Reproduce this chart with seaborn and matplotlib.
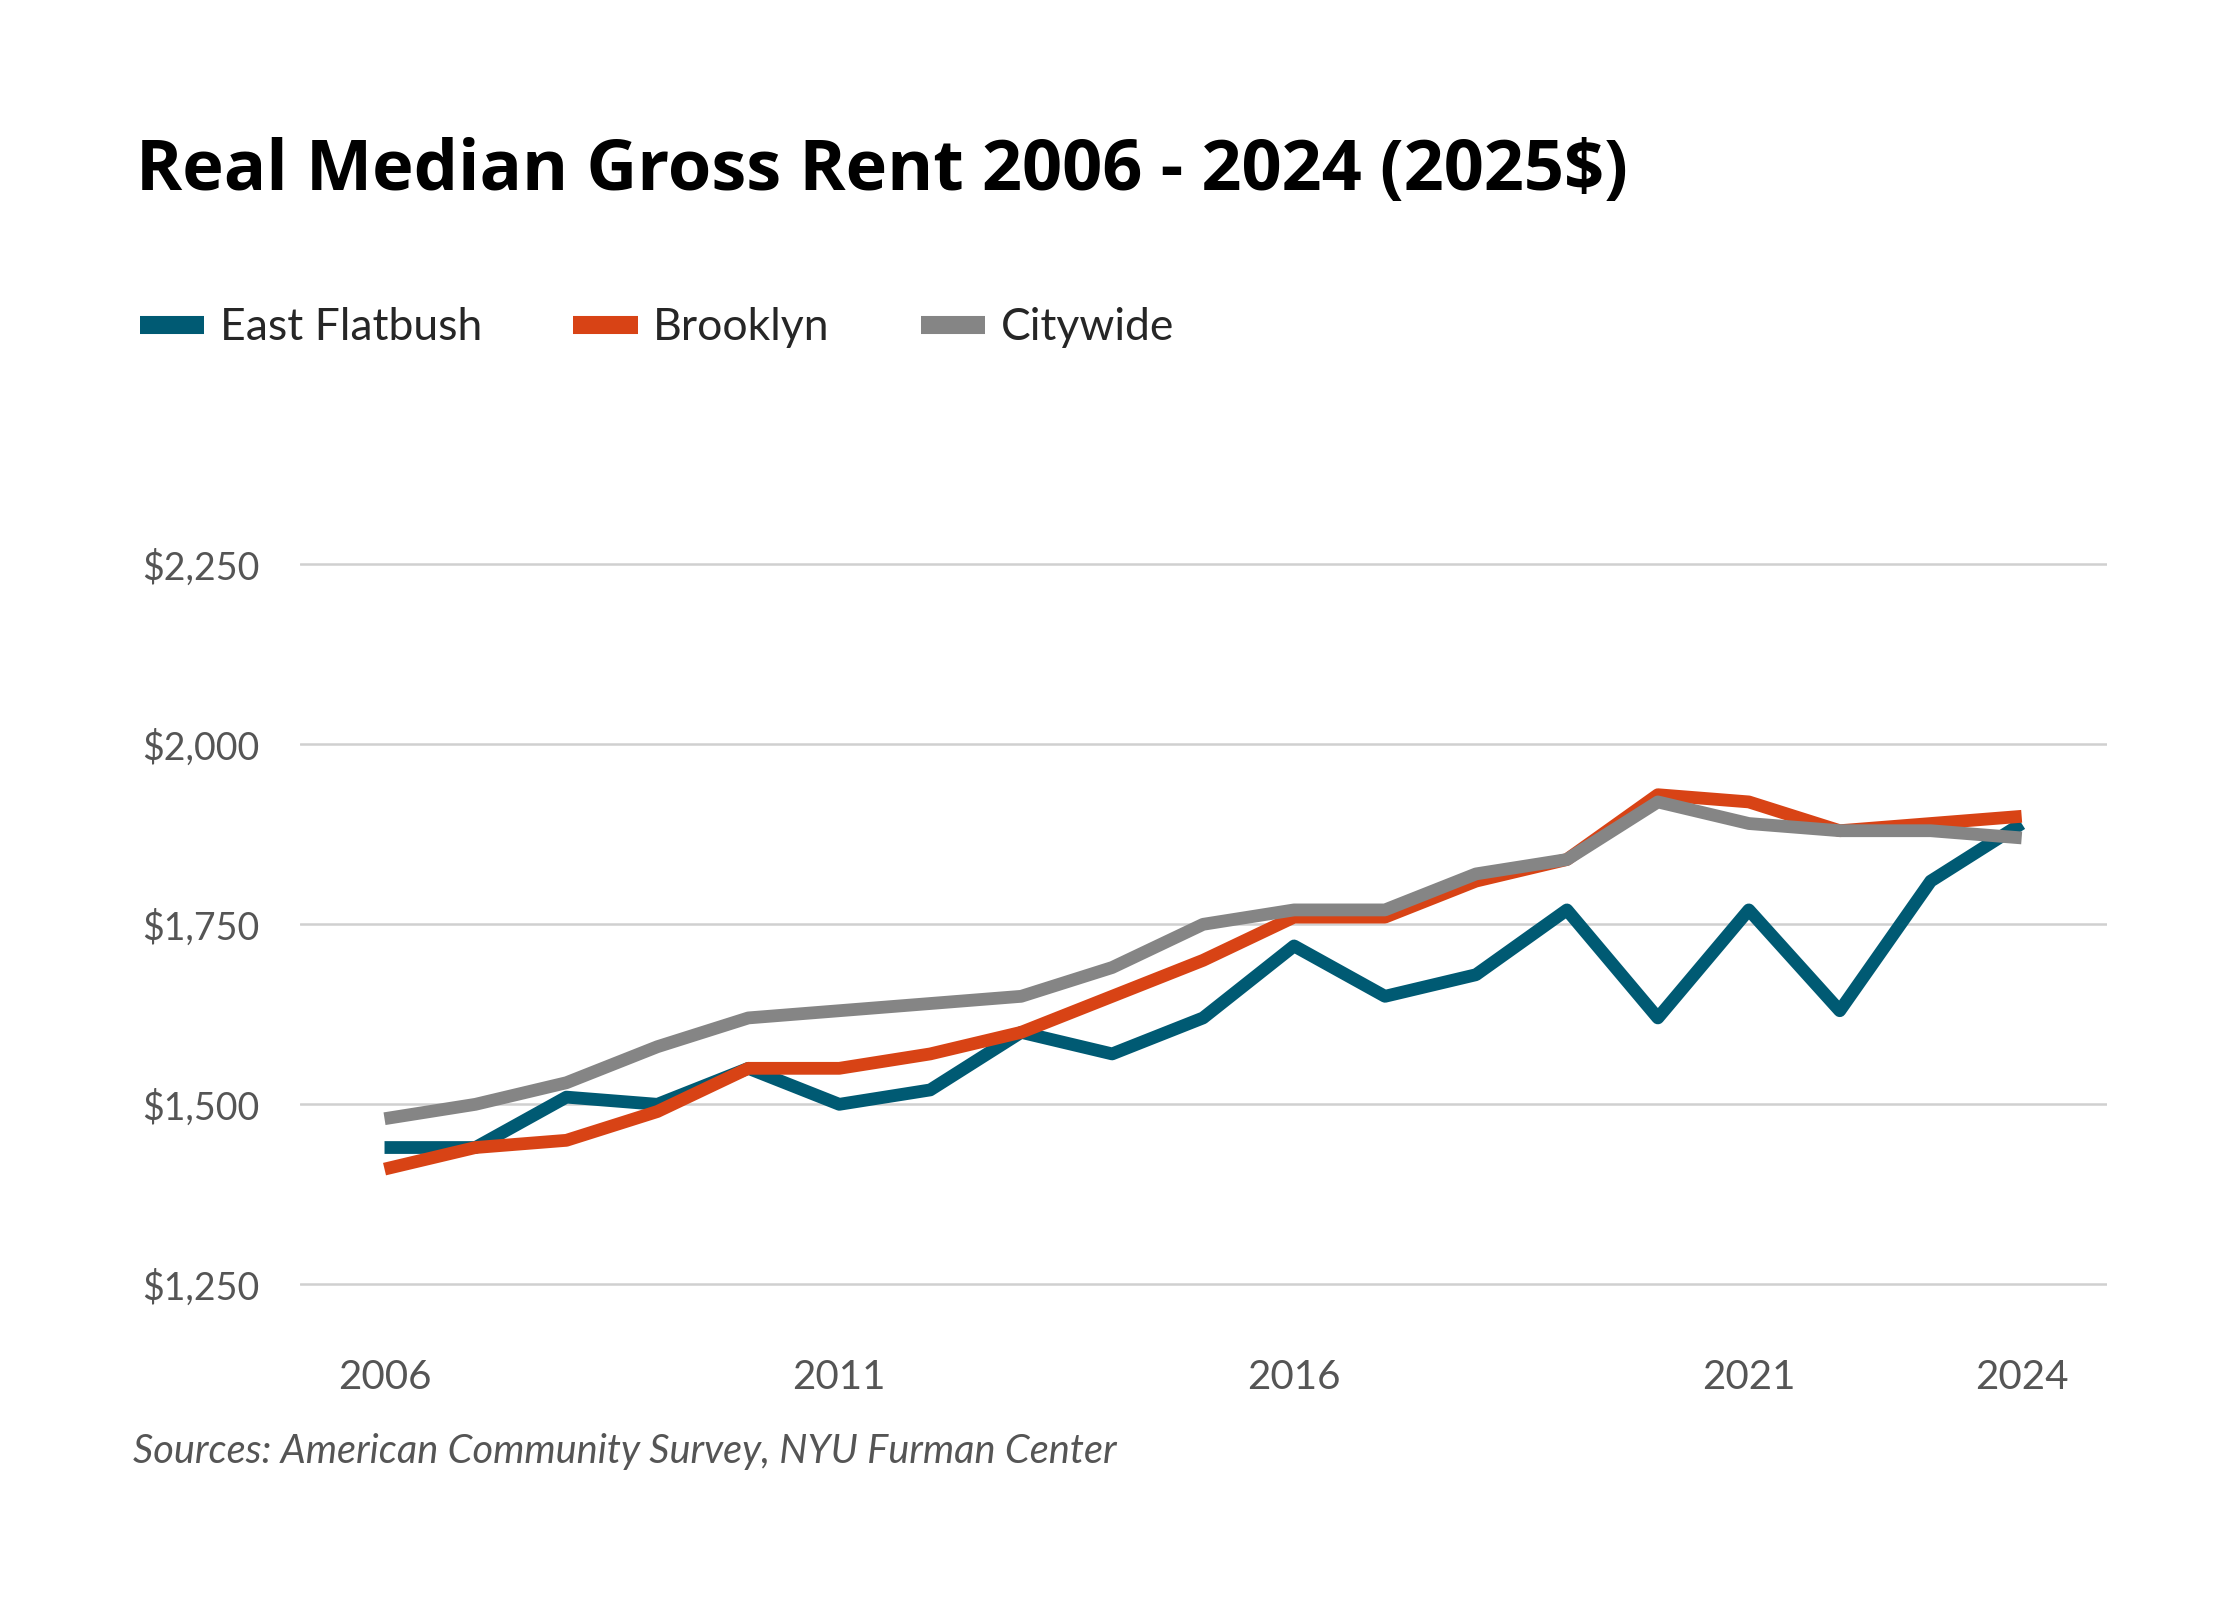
import matplotlib
matplotlib.use("Agg")
import matplotlib.pyplot as plt
import seaborn as sns
import pandas as pd

# values (2025 dollars)
years = list(range(2006, 2025))
east_flatbush = [1440, 1440, 1510, 1500, 1550, 1500, 1520, 1600, 1570, 1620,
                 1720, 1650, 1680, 1770, 1620, 1770, 1630, 1810, 1890]
brooklyn = [1410, 1440, 1450, 1490, 1550, 1550, 1570, 1600, 1650, 1700,
            1760, 1760, 1810, 1840, 1930, 1920, 1880, 1890, 1900]
citywide = [1480, 1500, 1530, 1580, 1620, 1630, 1640, 1650, 1690, 1750,
            1770, 1770, 1820, 1840, 1920, 1890, 1880, 1880, 1870]
series_names = ["East Flatbush", "Brooklyn", "Citywide"]
series_colors = ["#005a73", "#d84315", "#858585"]
x_ticks = [2006, 2011, 2016, 2021, 2024]
y_ticks = [1250, 1500, 1750, 2000, 2250]

df = pd.DataFrame({"year": years * 3,
                   "rent": east_flatbush + brooklyn + citywide,
                   "area": [n for n in series_names for _ in years]})

sns.set_theme(style="white")
plt.rcParams["font.family"] = ["Lato", "DejaVu Sans"]

fig = plt.figure(figsize=(11.2, 8), dpi=200)
ax = fig.add_axes([0.1339, 0.1748, 0.8068, 0.495])

sns.lineplot(data=df, x="year", y="rent", hue="area", hue_order=series_names,
             palette=series_colors, linewidth=4.6, ax=ax, legend=False,
             zorder=3)
for ln in ax.get_lines():
    ln.set_solid_capstyle("butt")

ax.set_xlim(2005.07, 2024.94)
ax.set_ylim(1200, 2300)
ax.set_xticks(x_ticks)
ax.set_xticklabels([str(t) for t in x_ticks])
ax.set_yticks(y_ticks)
ax.set_yticklabels([f"${t:,}" for t in y_ticks])
ax.grid(axis="y", color="#d0d0d0", linewidth=0.9, zorder=0)
ax.grid(axis="x", visible=False)
for s in ax.spines.values():
    s.set_visible(False)
ax.tick_params(axis="both", length=0, labelcolor="#555555")
ax.tick_params(axis="y", pad=14.5, labelsize=13.5)
ax.tick_params(axis="x", pad=14, labelsize=14.5)
ax.set_xlabel("")
ax.set_ylabel("")

fig.text(0.0605, 0.881, "Real Median Gross Rent 2006 - 2024 (2025$)",
         fontsize=25.3, fontweight="bold", color="black", va="baseline",
         family=["Open Sans", "DejaVu Sans"])

handles = [plt.Line2D([], [], color=c, linewidth=6.5, solid_capstyle="butt")
           for c in series_colors]
fig.legend(handles, series_names, loc="center left",
           bbox_to_anchor=(0.0625, 0.795), ncol=3, frameon=False,
           fontsize=16, handlelength=1.45, handletextpad=0.35,
           columnspacing=2.05, borderpad=0, borderaxespad=0)

fig.text(0.0595, 0.093, "Sources: American Community Survey, NYU Furman Center",
         fontsize=14.3, fontstyle="italic", color="#555555", va="center")

fig.savefig("out.png", dpi=200, facecolor="white")
